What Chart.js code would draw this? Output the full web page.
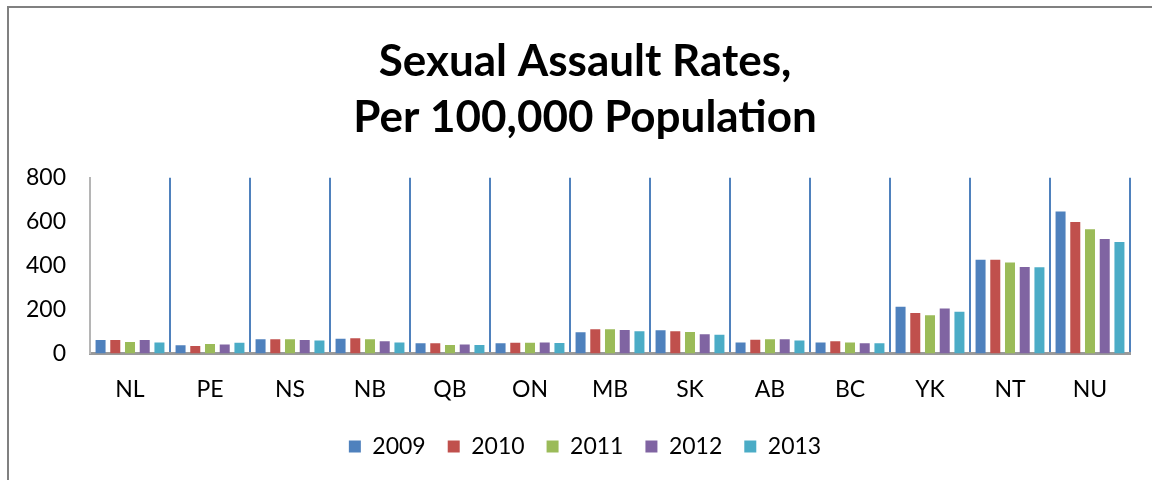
<!DOCTYPE html>
<html>
<head>
<meta charset="utf-8">
<script src="https://cdn.jsdelivr.net/npm/chart.js@4"></script>
<style>
  html, body { margin: 0; padding: 0; background: #fff; }
  #wrap { position: relative; width: 1152px; height: 480px; overflow: hidden; }
  #frame { position: absolute; left: 7px; top: 6px; width: 1200px; height: 600px;
           border-left: 2px solid #808080; border-top: 2px solid #808080; pointer-events: none; }
  canvas { position: absolute; left: 0; top: 0; }
</style>
</head>
<body>
<div id="wrap">
  <canvas id="c" width="1152" height="480"></canvas>
  <div id="frame"></div>
</div>
<script>
const titleLines = ['Sexual Assault Rates,', 'Per 100,000 Population'];
const categories = ['NL', 'PE', 'NS', 'NB', 'QB', 'ON', 'MB', 'SK', 'AB', 'BC', 'YK', 'NT', 'NU'];
const seriesNames = ['2009', '2010', '2011', '2012', '2013'];
const values2009 = [61, 37, 64, 67, 46, 46, 96, 105, 50, 50, 212, 427, 646];
const values2010 = [61, 34, 64, 69, 46, 49, 110, 101, 62, 55, 184, 427, 599];
const values2011 = [52, 43, 64, 64, 38, 49, 110, 98, 64, 50, 174, 414, 565];
const values2012 = [61, 41, 61, 55, 41, 50, 107, 87, 64, 46, 204, 393, 521];
const values2013 = [50, 49, 59, 50, 38, 47, 101, 85, 59, 46, 190, 392, 507];
const yMin = 0, yMax = 800, yStep = 200;

const seriesValues = [values2009, values2010, values2011, values2012, values2013];
const seriesColors = ['#4F81BD', '#C0504D', '#9BBB59', '#8064A2', '#4BACC6'];

const FONT = 'Lato, "Open Sans", sans-serif';

new Chart(document.getElementById('c'), {
  type: 'bar',
  data: {
    labels: categories,
    datasets: seriesNames.map((name, i) => ({
      label: name,
      data: seriesValues[i],
      backgroundColor: seriesColors[i],
      borderWidth: 0,
      categoryPercentage: 0.92,
      barPercentage: 0.68
    }))
  },
  options: {
    responsive: false,
    animation: false,
    devicePixelRatio: 1,
    layout: { padding: { left: 20, right: 2, top: 0, bottom: 12 } },
    plugins: {
      title: {
        display: true,
        text: titleLines,
        color: '#000',
        font: { family: FONT, size: 44, weight: 'bold', lineHeight: 1.27 },
        padding: { top: 34, bottom: 32 }
      },
      legend: {
        position: 'bottom',
        labels: {
          color: '#000',
          font: { family: FONT, size: 23 },
          boxWidth: 12,
          boxHeight: 12,
          padding: 22
        }
      },
      tooltip: { enabled: false }
    },
    scales: {
      x: {
        grid: {
          display: true,
          offset: true,
          drawTicks: false,
          lineWidth: 2,
          color: (ctx) => ctx.index === 0 ? 'rgba(0,0,0,0)' : '#4F81BD'
        },
        border: { display: true, color: '#9a9a9a', width: 3 },
        ticks: { color: '#000', font: { family: FONT, size: 23 }, padding: 22 },
        afterFit: (scale) => { scale.height = scale.height - 12; }
      },
      y: {
        min: yMin,
        max: yMax,
        grid: { display: false, drawTicks: false },
        border: { display: true, color: '#b5b5b5', width: 2 },
        ticks: { stepSize: yStep, color: '#000', font: { family: FONT, size: 23 }, padding: 24 },
        afterFit: (scale) => { scale.width = 70; }
      },
      ySpacer: {
        position: 'right',
        min: yMin,
        max: yMax,
        grid: { display: false, drawTicks: false },
        border: { display: false },
        ticks: { display: false },
        afterFit: (scale) => { scale.width = 20; }
      }
    }
  }
});
</script>
</body>
</html>
